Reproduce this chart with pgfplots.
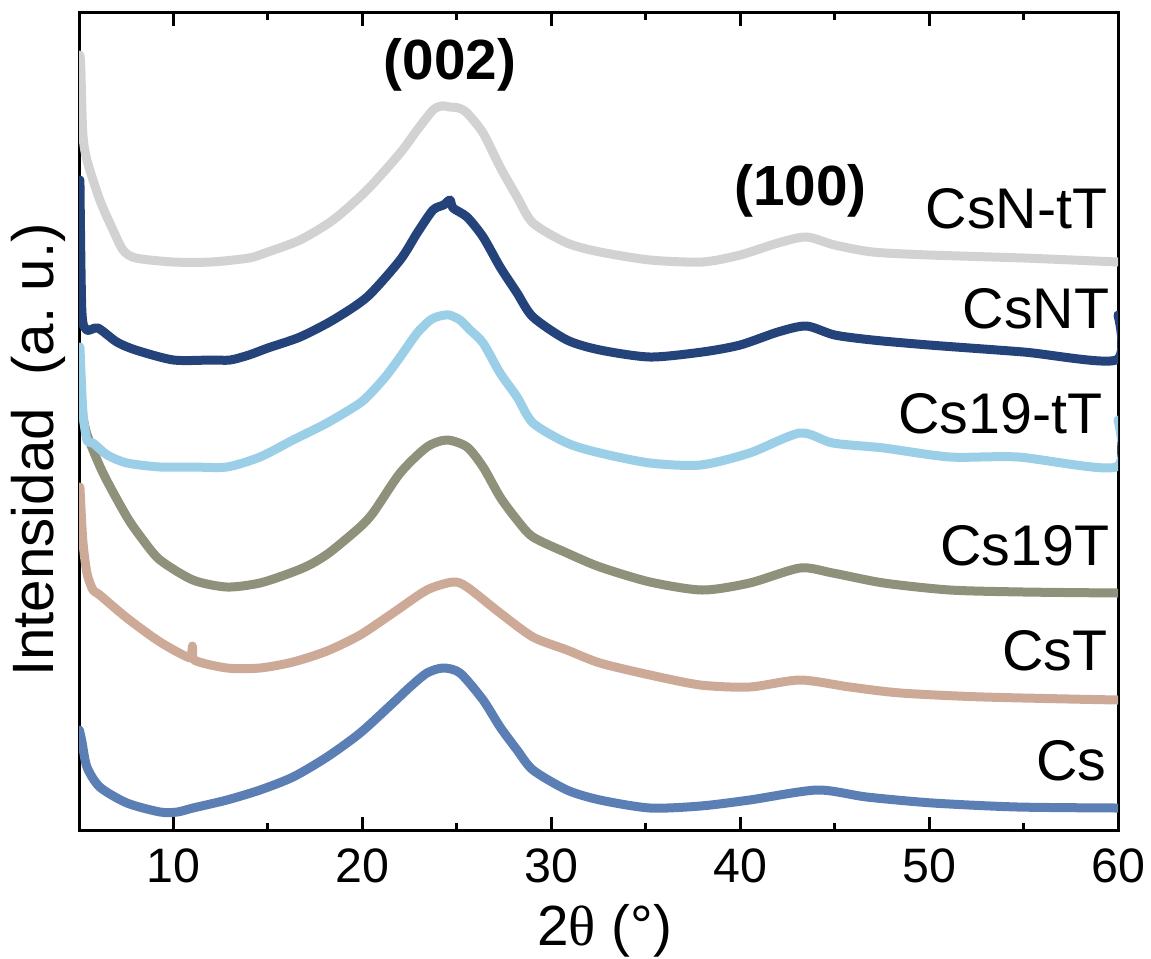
\documentclass[border=0pt]{standalone}
\usepackage{pgfplots}
\pgfplotsset{compat=1.18}
\usepackage{fontspec}
\setmainfont{Liberation Sans}
\newfontfamily\seriffont{Liberation Serif}
\definecolor{cgray}{HTML}{D2D2D2}
\definecolor{cnavy}{HTML}{24437B}
\definecolor{clight}{HTML}{9ACFE7}
\definecolor{colive}{HTML}{8F917B}
\definecolor{cpink}{HTML}{CDAA98}
\definecolor{cblue}{HTML}{5B7FB5}
\begin{document}
\begin{tikzpicture}
\useasboundingbox (-23.7pt,-38.4pt) rectangle (321.6pt,249pt);
\begin{axis}[
  scale only axis, width=311.7pt, height=245.1pt,
  xmin=5, xmax=60, ymin=0, ymax=817,
  axis line style={line width=0.9pt},
  xtick={10,20,...,60}, minor xtick={15,25,...,55},
  ytick=\empty,
  tick style={line width=0.9pt, black},
  major tick length=4pt, minor tick length=2pt,
  tick align=inside,
  xticklabel style={font=\fontsize{14.5}{17}\selectfont, yshift=-2pt},
  /pgf/number format/assume math mode=true,
  xlabel={2{\seriffont θ} (°)},
  xlabel style={font=\fontsize{17}{20}\selectfont, at={(rel axis cs:0.506,0)}, anchor=base, yshift=-34.5pt},
  every axis plot/.style={line width=2.7pt, line join=round, line cap=round, no marks, smooth, tension=0.45},
]
\addplot[cblue] coordinates {(5.02,100) (5.16,88) (5.42,63) (6.1,43) (7.54,27) (9.29,18) (10.2,18) (11.03,22) (12.83,30) (14.58,40) (16.33,53) (18.13,73) (19.88,97) (21.62,127) (22.52,143) (23.42,157) (24.27,162) (25.17,157) (26.39,130) (27.29,103) (28.19,80) (29.03,60) (30.83,40) (32.58,30) (35.23,22) (37.9,24) (40.5,30) (44.07,40) (46.7,33) (50.2,27) (54.7,23) (60,22)};
\addplot[cpink] coordinates {(5.05,343) (5.2,290) (5.42,257) (5.74,240) (6.1,235) (7.54,212) (9.29,188) (10.9,172) (11.0,184) (11.1,170) (12.83,162) (14.58,162) (16.33,168) (18.13,179) (19.88,195) (21.62,217) (23.42,240) (24.8,248) (25.54,243) (27.29,217) (29.03,193) (30.83,180) (32.58,167) (35.23,155) (37.9,145) (40.5,143) (43.17,150) (45.8,143) (48.5,137) (52.9,133) (60,130)};
\addplot[colive] coordinates {(5.05,430) (5.4,397) (6.27,357) (7.54,313) (8.39,290) (9.29,270) (11.03,250) (12.83,243) (14.58,247) (16.33,258) (17.3,266) (18.3,278) (19.88,303) (20.6,318) (22.0,357) (23.42,383) (24.48,390) (25.54,383) (26.39,363) (27.29,333) (28.19,310) (29.03,293) (30.83,277) (32.58,263) (35.23,248) (38,240) (40.5,247) (43.17,262) (44.9,257) (47.6,247) (51.1,240) (55,238) (60,237)};
\addplot[clight] coordinates {(5.05,483) (5.2,420) (5.42,390) (5.74,387) (6.5,375) (7.54,367) (9.29,363) (11.03,363) (12.83,363) (14.58,373) (16.33,390) (18.13,407) (19.88,427) (20.6,440) (21.3,455) (22.0,473) (22.9,497) (23.6,510) (24.1,514) (24.6,515) (25.17,510) (25.7,500) (26.39,487) (27.29,457) (28.19,433) (29.03,407) (30.83,387) (32.58,377) (35.23,367) (37.9,365) (40.5,377) (43.17,397) (44.9,387) (47.6,382) (51.1,373) (54.7,373) (59.9,363) (60,410)};
\addplot[cnavy] coordinates {(5.05,650) (5.15,520) (5.4,500) (6,502) (7,488) (8,480) (10,470) (12,470) (13,470) (14,475) (15,482) (16.7,493) (18.45,510) (20.25,533) (22.0,570) (22.9,597) (23.74,620) (24.3,625) (24.64,630) (24.8,622) (25.54,613) (26.39,593) (27.29,563) (28.19,537) (29.03,513) (30.83,490) (32.58,480) (35.23,473) (38,478) (40,485) (42,498) (43.5,504) (45,495) (47,490) (50,485) (55,478) (59.9,470) (60,515)};
\addplot[cgray] coordinates {(5.05,775) (5.1,760) (5.2,697) (5.42,670) (6.1,630) (6.8,600) (7.33,580) (8,572) (10,568) (12,568) (14,572) (15,578) (16.7,590) (18.45,610) (20.25,640) (22,677) (22.9,700) (23.74,720) (24.2,724) (24.64,723) (25.1,722) (25.54,717) (26.39,697) (27.29,663) (28.19,633) (29.03,607) (30.83,587) (32.58,578) (35.23,570) (38,568) (40,575) (42,587) (43.5,593) (45,585) (47,578) (50,575) (55,572) (60,568)};
\begin{scope}[every node/.style={inner sep=0pt, font=\fontsize{17.2}{20}\selectfont}]
\node[anchor=base east] at (axis cs:59.47,602) {CsN-tT};
\node[anchor=base east] at (axis cs:59.58,502) {CsNT};
\node[anchor=base east] at (axis cs:59.21,397) {Cs19-tT};
\node[anchor=base east] at (axis cs:59.58,265) {Cs19T};
\node[anchor=base east] at (axis cs:59.47,160) {CsT};
\node[anchor=base east] at (axis cs:59.42,50) {Cs};
\node[anchor=base, font=\fontsize{17}{20}\selectfont\bfseries] at (axis cs:24.64,750) {(002)};
\node[anchor=base, font=\fontsize{17}{20}\selectfont\bfseries] at (axis cs:43.2,625) {(100)};
\end{scope}
\end{axis}
\node[rotate=90, anchor=base, inner sep=0pt, font=\fontsize{17.5}{20}\selectfont] at (-7.8pt,114pt) {Intensidad\ \ (a.\ u.)};
\end{tikzpicture}
\end{document}
